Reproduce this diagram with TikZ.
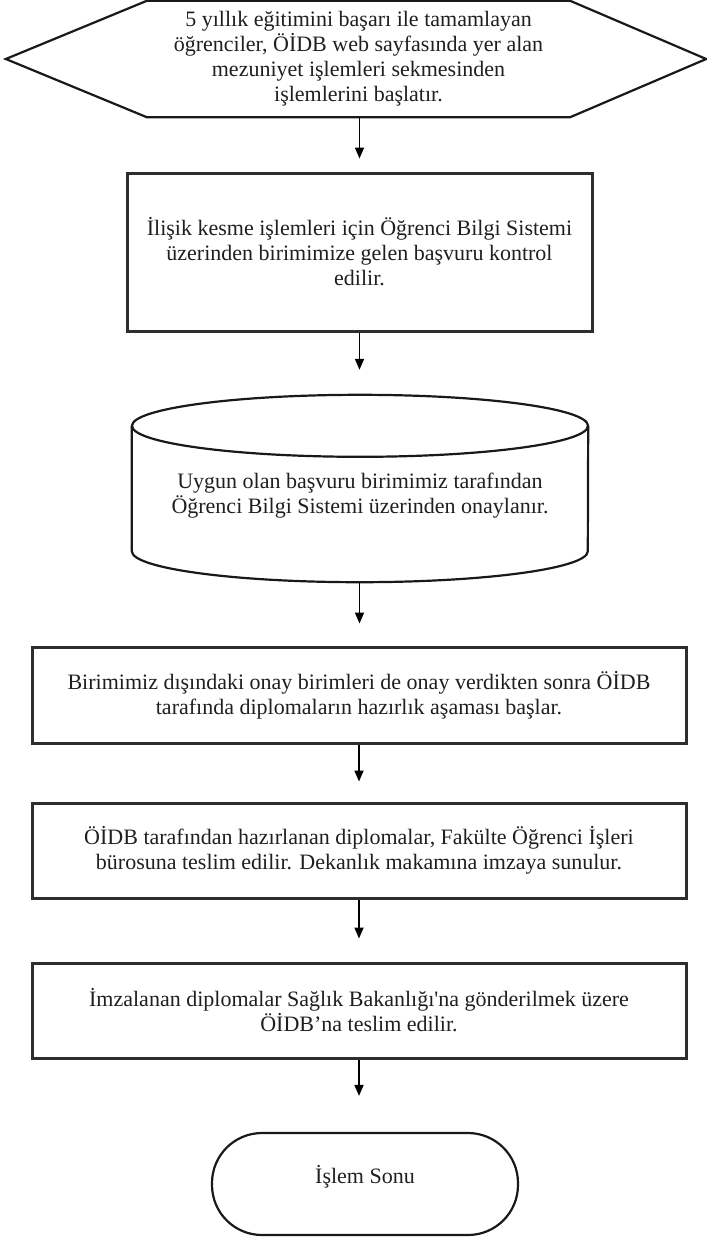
\documentclass[tikz,border=0pt]{standalone}
\usepackage{fontspec}
\setmainfont{Liberation Serif}
\usetikzlibrary{arrows.meta,calc}
\begin{document}
\begin{tikzpicture}[x=1pt,y=-1pt,
  txt/.style={font=\fontsize{22}{25}\selectfont, align=center, text=black!88},
  box/.style={draw=black!82, line width=3pt, inner sep=0pt, txt},
  arr/.style={draw=black, line width=1.7pt, -{Triangle[length=11pt,width=9pt]}},
  outline/.style={draw=black!90, line width=2.2pt, line join=miter}
]
\useasboundingbox (0,0) rectangle (707,1240);
% start hexagon
\node[txt, minimum width=423, minimum height=116, inner sep=0pt] (start) at (358.5,59)
  {5 yıllık eğitimini başarı ile tamamlayan\\öğrenciler, ÖİDB web sayfasında yer alan\\mezuniyet işlemleri sekmesinden\\işlemlerini başlatır.};
\draw[outline] (start.north west) -- (start.north east) -- ($(start.east)+(136,0)$) -- (start.south east)
  -- (start.south west) -- ($(start.west)+(-141,0)$) -- cycle;
% step 2
\node[box, minimum width=465, minimum height=158] (r2) at (359.5,252)
  {İlişik kesme işlemleri için Öğrenci Bilgi Sistemi\\üzerinden birimimize gelen başvuru kontrol\\edilir.};
% cylinder
\node[minimum width=456, minimum height=187, inner sep=0pt] (db) at (360,488.5) {};
\draw[outline] ($(db.north)+(0,31)$) ellipse [x radius=228, y radius=31];
\draw[outline] ($(db.north west)+(0,31)$) -- ($(db.south west)+(0,-31)$)
  arc[start angle=180, end angle=0, x radius=228, y radius=31] -- ($(db.north east)+(0,31)$);
\node[txt] (dbt) at (360,496) {Uygun olan başvuru birimimiz tarafından\\Öğrenci Bilgi Sistemi üzerinden onaylanır.};
% steps 4-6
\node[box, minimum width=654, minimum height=96] (r4) at (359,695)
  {Birimimiz dışındaki onay birimleri de onay verdikten sonra ÖİDB\\tarafında diplomaların hazırlık aşaması başlar.};
\node[box, minimum width=654, minimum height=95] (r5) at (359,850.5)
  {ÖİDB tarafından hazırlanan diplomalar, Fakülte Öğrenci İşleri\\bürosuna teslim edilir. Dekanlık makamına imzaya sunulur.};
\node[box, minimum width=654, minimum height=95] (r6) at (359,1010.5)
  {İmzalanan diplomalar Sağlık Bakanlığı\textquotesingle na gönderilmek üzere\\ÖİDB’na teslim edilir.};
% terminal
\node[outline, rounded corners=50pt, minimum width=306, minimum height=102] (term) at (365,1184) {};
\node[txt, yshift=7pt] (termt) at (term.center) {İşlem Sonu};
% connectors
\draw[arr, shorten >=13pt] (r2.north |- start.south) -- (r2.north);
\draw[arr, shorten >=25pt] (r2.south) -- (r2.south |- db.north);
\draw[arr, shorten >=22pt] (r2.south |- db.south) -- (r2.south |- r4.north);
\draw[arr, shorten >=20pt] (r4.south) -- (r5.north);
\draw[arr, shorten >=23pt] (r5.south) -- (r6.north);
\draw[arr, shorten >=36pt] (r6.south) -- (r6.south |- term.north);
\end{tikzpicture}
\end{document}
